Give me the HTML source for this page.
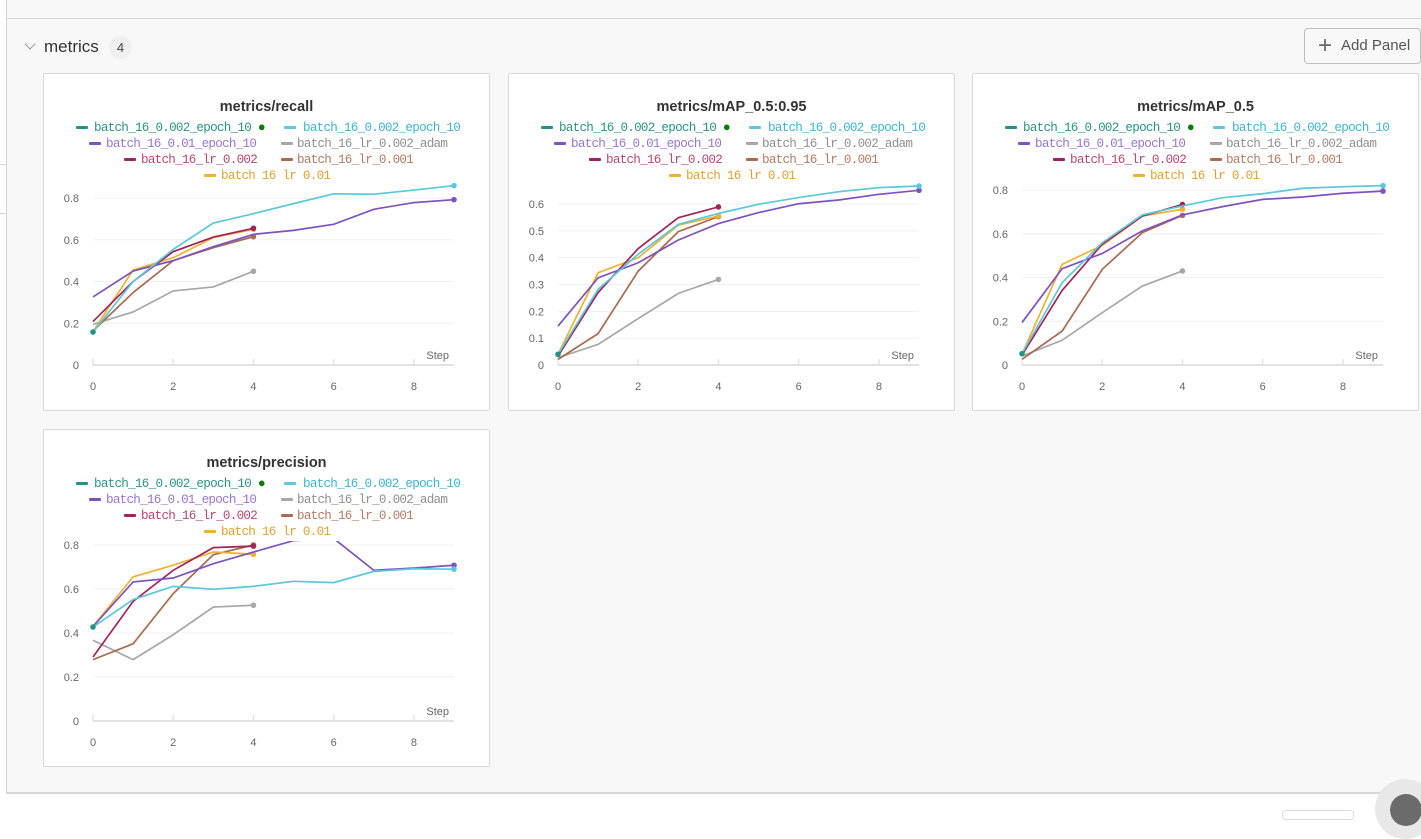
<!DOCTYPE html>
<html><head><meta charset="utf-8">
<style>
*{box-sizing:border-box;margin:0;padding:0}
body{width:1421px;height:816px;overflow:hidden;background:#fff;font-family:"Liberation Sans",sans-serif;position:relative}
#sec{position:absolute;left:6px;top:0;width:1415px;height:794px;background:#f8f8f8;border-left:1px solid #d6d6d6;border-bottom:2px solid #d6d6d6}
#topline{position:absolute;left:7px;top:18px;width:1414px;height:1px;background:#d6d6d6}
.panel{position:absolute;width:447px;height:338px;background:#fff;border:1px solid #d9d9d9;border-radius:2px;overflow:hidden}
.title{position:absolute;left:0;width:100%;top:25px;text-align:center;font-weight:bold;font-size:14.5px;color:#333}
.legend{position:absolute;left:0;top:45px;width:100%;height:61px;overflow:hidden;font-family:"Liberation Mono",monospace;font-size:12.6px;letter-spacing:-0.73px}
.li{position:absolute;white-space:nowrap;line-height:14px}
.dash{position:absolute;width:12px;height:3px;border-radius:1px}
svg{position:absolute;left:0;top:0}
</style></head><body>
<div id="sec"></div>
<div id="topline"></div>
<div style="position:absolute;left:0;top:164px;width:7px;height:50px;border-top:1px solid #d6d6d6;border-bottom:1px solid #d6d6d6"></div>
<div style="position:absolute;left:26px;top:40px;width:8px;height:8px;border-right:1.5px solid #999;border-bottom:1.5px solid #999;transform:rotate(45deg)"></div>
<div style="position:absolute;left:44px;top:37px;font-size:17px;color:#333">metrics</div>
<div style="position:absolute;left:109px;top:36px;width:23px;height:23px;border-radius:12px;background:#efefef;font-size:13px;color:#444;text-align:center;line-height:23px">4</div>
<div style="position:absolute;left:1304px;top:28px;width:117px;height:36px;border:1px solid #bdbdbd;border-radius:4px;background:#f8f8f8;font-size:15px;color:#555;line-height:34px;padding-left:36px"><span style="position:absolute;left:13px;top:0;font-size:24px;font-weight:200;color:#666">+</span>Add Panel</div>
<div style="position:absolute;left:1282px;top:810px;width:72px;height:10px;border:1px solid #ddd;border-radius:4px"></div>
<div style="position:absolute;left:1375px;top:779px;width:60px;height:60px;border-radius:30px;background:#e8e8e8"></div>
<div style="position:absolute;left:1390px;top:794px;width:32px;height:32px;border-radius:16px;background:#6b6b6b"></div>

<div id="charts"></div>
<script>
const steps=[0,1,2,3,4,5,6,7,8,9];
const seriesNames=["batch_16_0.002_epoch_10","batch_16_0.002_epoch_10","batch_16_0.01_epoch_10","batch_16_lr_0.002_adam","batch_16_lr_0.002","batch_16_lr_0.001","batch_16_lr_0.01"];
const lineColors=["#229487","#5bc8dc","#7e52c0","#a7a7a7","#a3245c","#aa6a4f","#f1b232"];
const textColors=["#2a9386","#3db3d0","#9a74cf","#8f8f8f","#b8466f","#b47a60","#e0a030"];

const recallTeal=[0.158];
const recallCyan=[0.158,0.40,0.554,0.68,0.725,0.773,0.82,0.818,0.838,0.859];
const recallPurple=[0.326,0.45,0.50,0.567,0.626,0.645,0.674,0.746,0.778,0.792];
const recallGray=[0.195,0.254,0.355,0.374,0.449];
const recallCrimson=[0.208,0.40,0.543,0.613,0.655];
const recallBrown=[0.163,0.347,0.50,0.562,0.615];
const recallYellow=[0.16,0.455,0.514,0.61,0.65];

const map95Teal=[0.04];
const map95Cyan=[0.04,0.282,0.413,0.524,0.565,0.599,0.624,0.646,0.661,0.667];
const map95Purple=[0.145,0.325,0.381,0.466,0.527,0.568,0.601,0.615,0.636,0.651];
const map95Gray=[0.027,0.077,0.173,0.267,0.319];
const map95Crimson=[0.033,0.27,0.434,0.549,0.589];
const map95Brown=[0.021,0.117,0.35,0.497,0.553];
const map95Yellow=[0.04,0.344,0.40,0.521,0.555];

const map5Teal=[0.052];
const map5Cyan=[0.052,0.376,0.559,0.686,0.727,0.765,0.783,0.808,0.815,0.82];
const map5Purple=[0.194,0.44,0.51,0.613,0.686,0.724,0.757,0.768,0.785,0.795];
const map5Gray=[0.041,0.113,0.239,0.361,0.43];
const map5Crimson=[0.045,0.341,0.552,0.681,0.734];
const map5Brown=[0.026,0.155,0.437,0.605,0.684];
const map5Yellow=[0.05,0.46,0.547,0.681,0.712];

const precTeal=[0.427];
const precCyan=[0.427,0.552,0.612,0.599,0.612,0.635,0.629,0.68,0.692,0.69];
const precPurple=[0.43,0.632,0.65,0.715,0.768,0.82,0.83,0.685,0.695,0.708];
const precGray=[0.367,0.279,0.392,0.518,0.526];
const precCrimson=[0.291,0.544,0.685,0.788,0.795];
const precBrown=[0.279,0.351,0.579,0.756,0.80];
const precYellow=[0.43,0.655,0.708,0.768,0.758];

const yTicksRecall=["0","0.2","0.4","0.6","0.8"];
const yTicksMap95=["0","0.1","0.2","0.3","0.4","0.5","0.6"];
const xTickLabels=["0","2","4","6","8"];

const panels=[
 {name:"recall-panel",title:"metrics/recall",left:43,top:73,yMax:0.8,yPix:167,ticks:yTicksRecall,clipTop:100,
  data:[recallTeal,recallCyan,recallPurple,recallGray,recallCrimson,recallBrown,recallYellow]},
 {name:"map-05-095-panel",title:"metrics/mAP_0.5:0.95",left:508,top:73,yMax:0.6,yPix:161,ticks:yTicksMap95,clipTop:100,
  data:[map95Teal,map95Cyan,map95Purple,map95Gray,map95Crimson,map95Brown,map95Yellow]},
 {name:"map-05-panel",title:"metrics/mAP_0.5",left:972,top:73,yMax:0.8,yPix:175,ticks:yTicksRecall,clipTop:100,
  data:[map5Teal,map5Cyan,map5Purple,map5Gray,map5Crimson,map5Brown,map5Yellow]},
 {name:"precision-panel",title:"metrics/precision",left:43,top:429,yMax:0.8,yPix:176,ticks:yTicksRecall,clipTop:111,
  data:[precTeal,precCyan,precPurple,precGray,precCrimson,precBrown,precYellow]}
];
const legendPos=[[0,32,50],[0,240,259],[1,45,62],[1,237,253],[2,80,97],[2,237,253],[3,160,177]];
const NS="http://www.w3.org/2000/svg";
const root=document.getElementById('charts');
panels.forEach((p,pi)=>{
  const d=document.createElement('div');
  d.className='panel';
  d.style.left=p.left+'px';d.style.top=p.top+'px';
  
  
  const t=document.createElement('div');t.className='title';t.textContent=p.title;
  
  
  d.appendChild(t);
  const lg=document.createElement('div');lg.className='legend';
  
  
  seriesNames.forEach((n,i)=>{
    const [row,dx,tx]=legendPos[i];
    const item=document.createElement('div');item.className='li';
    item.style.top=(row*16+2)+'px';item.style.left=dx+'px';
    
    
    item.innerHTML='<span class="dash" style="left:0;top:5px;background:'+lineColors[i]+'"></span><span style="position:absolute;left:'+(tx-dx)+'px;color:'+textColors[i]+'">'+n+(i==0?' <span style="color:#0a7a0a;font-size:13px">●</span>':'')+'</span>';
    lg.appendChild(item);
  });
  d.appendChild(lg);
  const svg=document.createElementNS(NS,'svg');
  svg.setAttribute('width','447');svg.setAttribute('height','338');
  const x0=49,x1=410,y0=291;
  const X=s=>x0+s*(x1-x0)/9;
  const Y=v=>y0-v*(p.yPix/p.yMax);
  const step=p.yMax/(p.ticks.length-1);
  p.ticks.forEach((lab,k)=>{
    const yy=Y(k*step);
    if(k>0){const g=document.createElementNS(NS,'line');
      g.setAttribute('x1',x0);g.setAttribute('x2',x1);g.setAttribute('y1',yy);g.setAttribute('y2',yy);
      g.setAttribute('stroke','#f0f0f0');g.setAttribute('stroke-width','1');
      
      
      svg.appendChild(g);}
    const tx=document.createElementNS(NS,'text');
    tx.setAttribute('x',35);tx.setAttribute('y',yy+4);tx.setAttribute('text-anchor','end');
    tx.setAttribute('font-size','11');tx.setAttribute('fill','#666');tx.setAttribute('font-family','Liberation Sans, sans-serif');
    tx.textContent=lab;
    
    
    svg.appendChild(tx);
  });
  const ax=document.createElementNS(NS,'line');
  ax.setAttribute('x1',x0);ax.setAttribute('x2',x1);ax.setAttribute('y1',y0);ax.setAttribute('y2',y0);
  ax.setAttribute('stroke','#e3e3e3');ax.setAttribute('stroke-width','2');
  
  
  svg.appendChild(ax);
  xTickLabels.forEach(lab=>{
    const s=+lab,xx=X(s);
    const tk=document.createElementNS(NS,'line');
    tk.setAttribute('x1',xx);tk.setAttribute('x2',xx);tk.setAttribute('y1',y0-6);tk.setAttribute('y2',y0);
    tk.setAttribute('stroke','#e3e3e3');tk.setAttribute('stroke-width','1.5');
    
    
    svg.appendChild(tk);
    const tx=document.createElementNS(NS,'text');
    tx.setAttribute('x',xx);tx.setAttribute('y',y0+25);tx.setAttribute('text-anchor','middle');
    tx.setAttribute('font-size','11');tx.setAttribute('fill','#666');tx.setAttribute('font-family','Liberation Sans, sans-serif');
    tx.textContent=lab;
    
    
    svg.appendChild(tx);
  });
  const st=document.createElementNS(NS,'text');
  st.setAttribute('x',405);st.setAttribute('y',y0-6);st.setAttribute('text-anchor','end');
  st.setAttribute('font-size','11');st.setAttribute('fill','#666');st.setAttribute('font-family','Liberation Sans, sans-serif');
  st.textContent='Step';
  
  
  svg.appendChild(st);
  const cp=document.createElementNS(NS,'clipPath');cp.setAttribute('id','cp'+pi);
  const cr=document.createElementNS(NS,'rect');cr.setAttribute('x',0);cr.setAttribute('y',p.clipTop);cr.setAttribute('width',447);cr.setAttribute('height',338);
  cp.appendChild(cr);svg.appendChild(cp);
  const gg=document.createElementNS(NS,'g');gg.setAttribute('clip-path','url(#cp'+pi+')');
  [3,5,6,4,2,1,0].forEach(i=>{
    const vals=p.data[i];
    if(vals.length>1){
      const pl=document.createElementNS(NS,'polyline');
      pl.setAttribute('points',vals.map((v,k)=>X(steps[k])+','+Y(v)).join(' '));
      pl.setAttribute('fill','none');pl.setAttribute('stroke',lineColors[i]);pl.setAttribute('stroke-width','1.7');
      
      
      gg.appendChild(pl);
    }
    const last=vals.length-1;
    const c=document.createElementNS(NS,'circle');
    c.setAttribute('cx',X(steps[last]));c.setAttribute('cy',Y(vals[last]));c.setAttribute('r','2.8');
    c.setAttribute('fill',lineColors[i]);
    
    
    gg.appendChild(c);
  });
  svg.appendChild(gg);
  d.appendChild(svg);
  root.appendChild(d);
});
</script>
</body></html>
